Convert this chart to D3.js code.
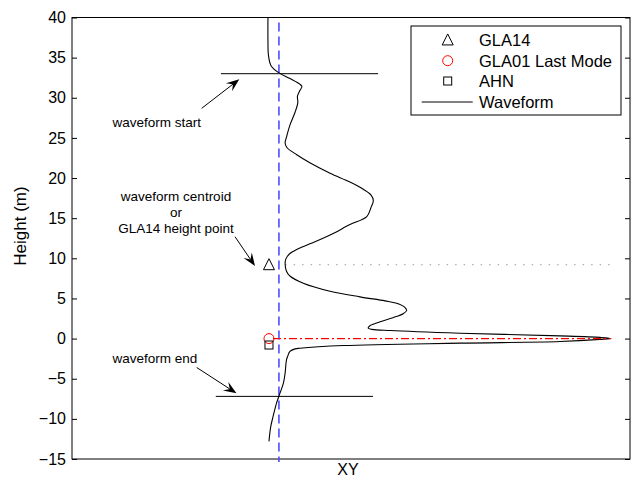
<!DOCTYPE html>
<html>
<head>
<meta charset="utf-8">
<script src="https://cdn.jsdelivr.net/npm/d3@7"></script>
<style>
  html, body { margin: 0; padding: 0; background: #fff; }
  svg { display: block; font-family: "Liberation Sans", Arial, Helvetica, sans-serif; }
</style>
</head>
<body>
<svg id="chart" width="632" height="477"></svg>
<script>
// Waveform profile: height (m) and relative return energy (peak = 100)
const waveHeight = [40.0, 37.2, 35.3, 34.0, 33.1, 32.4, 31.7, 31.4, 30.9, 30.2, 29.4, 28.2, 26.6, 25.1, 24.4, 23.8,
  22.9, 21.9, 20.6, 19.5, 18.6, 17.9, 17.2, 16.3, 15.2, 14.2, 12.9, 11.8, 11.1, 10.6, 9.9, 9.3, 8.4, 7.8,
  6.9, 5.9, 5.2, 4.7, 4.4, 3.9, 3.5, 3.1, 2.6, 2.1, 1.6, 1.3, 1.15, 1.0, 0.67, 0.34, 0.15, 0.02, -0.1,
  -0.37, -0.57, -0.87, -1.2, -1.28, -1.6, -2.15, -2.65, -4.3, -5.55, -6.8, -8.05, -9.7, -11.0, -12.8];
const waveEnergy = [0, 0, 0.15, 0.9, 3.2, 6.4, 9.3, 9.9, 9.3, 8.6, 8.7, 7.9, 6.4, 5.4, 5.0, 5.5,
  8.4, 12.2, 18.1, 23.9, 27.8, 30.0, 30.7, 30.0, 28.8, 23.9, 18.1, 12.2, 8.4, 6.4, 5.2, 5.0, 5.4, 6.4,
  10.3, 18.1, 26.8, 34.1, 37.5, 39.9, 40.4, 39.4, 36.4, 32.7, 29.7, 29.2, 30.3, 35.6, 56.0, 85.1, 96.8, 100, 96.8,
  85.1, 56.0, 22.0, 9.3, 7.9, 6.4, 5.8, 5.4, 5.0, 4.5, 3.5, 2.5, 1.5, 0.8, 0.3];

// Point heights (m) and their horizontal position
const gla14Height = 9.2;
const gla01Height = 0;
const ahnHeight = -0.8;
const markerX = 0.3;

// Reference lines
const centerLineX = 3.2;                      // vertical dashed line
const startHeight = 33.0, startSpan = [-13.7, 32.1];
const endHeight = -7.2, endSpan = [-15.2, 30.6];
const centroidSpan = [5.0, 99.7];
const lastModeSpan = [0.3, 100];

const yTicks = [-15, -10, -5, 0, 5, 10, 15, 20, 25, 30, 35, 40];
const legendLabels = ["GLA14", "GLA01 Last Mode", "AHN", "Waveform"];

const svg = d3.select("#chart");
const plotLeft = 72, plotRight = 630, plotTop = 17.5, plotBottom = 459;

const x = d3.scaleLinear().domain([-57.1, 105.5]).range([plotLeft, plotRight]);
const y = d3.scaleLinear().domain([-15, 40]).range([plotBottom, plotTop]);

const fmt = d => (d < 0 ? "\u2212" + Math.abs(d) : String(d));

// Axes frame
svg.append("rect")
  .attr("x", plotLeft).attr("y", plotTop)
  .attr("width", plotRight - plotLeft).attr("height", plotBottom - plotTop)
  .attr("fill", "none").attr("stroke", "#000").attr("stroke-width", 1);

const gl = svg.append("g").attr("transform", `translate(${plotLeft},0)`)
  .call(d3.axisLeft(y).tickValues(yTicks).tickFormat(fmt).tickSizeInner(-5).tickSizeOuter(0).tickPadding(6));
gl.select(".domain").remove();
gl.selectAll("text").attr("font-size", 16).attr("font-family", "Liberation Sans, Arial, sans-serif").attr("fill", "#000");
gl.selectAll("line").attr("stroke", "#000");

const gr = svg.append("g").attr("transform", `translate(${plotRight},0)`)
  .call(d3.axisRight(y).tickValues(yTicks).tickFormat("").tickSizeInner(-5).tickSizeOuter(0));
gr.select(".domain").remove();
gr.selectAll("line").attr("stroke", "#000");

// Axis titles
svg.append("text")
  .attr("transform", `translate(25.5,226) rotate(-90)`)
  .attr("text-anchor", "middle").attr("font-size", 17).text("Height (m)");
svg.append("text")
  .attr("x", (plotLeft + plotRight) / 2 - 3).attr("y", 474.5)
  .attr("text-anchor", "middle").attr("font-size", 16).text("XY");

// Waveform start / end levels
svg.append("line")
  .attr("x1", x(startSpan[0])).attr("x2", x(startSpan[1]))
  .attr("y1", y(startHeight)).attr("y2", y(startHeight))
  .attr("stroke", "#000").attr("stroke-width", 1);
svg.append("line")
  .attr("x1", x(endSpan[0])).attr("x2", x(endSpan[1]))
  .attr("y1", y(endHeight)).attr("y2", y(endHeight))
  .attr("stroke", "#000").attr("stroke-width", 1);

// Centroid level (dotted)
svg.append("line")
  .attr("x1", x(centroidSpan[0])).attr("x2", x(centroidSpan[1]))
  .attr("y1", y(gla14Height)).attr("y2", y(gla14Height))
  .attr("stroke", "#999").attr("stroke-width", 1).attr("stroke-dasharray", "1.5,7");

// Vertical dashed line
svg.append("line")
  .attr("x1", x(centerLineX)).attr("x2", x(centerLineX))
  .attr("y1", y(40) + 5).attr("y2", y(-15) + 3)
  .attr("stroke", "#4d4dff").attr("stroke-width", 1.6).attr("stroke-dasharray", "9,5");

// Waveform curve
const wave = waveHeight.map((h, i) => ({ h, e: waveEnergy[i] }));
svg.append("path")
  .datum(wave)
  .attr("fill", "none").attr("stroke", "#000").attr("stroke-width", 1.1)
  .attr("d", d3.line().x(d => x(d.e)).y(d => y(d.h)).curve(d3.curveCatmullRom.alpha(0.5)));

// Last mode level (dash-dot)
svg.append("line")
  .attr("x1", x(lastModeSpan[0]) + 4).attr("x2", x(lastModeSpan[1]))
  .attr("y1", y(gla01Height)).attr("y2", y(gla01Height))
  .attr("stroke", "#ff0000").attr("stroke-width", 1.1).attr("stroke-dasharray", "8,3,2,3");

// Markers
const triPath = (cx, cy, s) => `M${cx},${cy - s * 0.55}L${cx + s / 2},${cy + s * 0.45}L${cx - s / 2},${cy + s * 0.45}Z`;
function drawTri(cx, cy) {
  svg.append("path").attr("d", triPath(cx, cy, 11)).attr("fill", "none").attr("stroke", "#000").attr("stroke-width", 1);
}
function drawCircle(cx, cy) {
  svg.append("circle").attr("cx", cx).attr("cy", cy).attr("r", 5)
    .attr("fill", "none").attr("stroke", "#ff0000").attr("stroke-width", 1);
}
function drawSquare(cx, cy) {
  svg.append("rect").attr("x", cx - 4).attr("y", cy - 4).attr("width", 8).attr("height", 8)
    .attr("fill", "none").attr("stroke", "#000").attr("stroke-width", 1);
}
drawTri(x(markerX), y(gla14Height));
drawCircle(x(markerX), y(gla01Height));
drawSquare(x(markerX), y(ahnHeight));

// Annotation arrows
function arrow(x1, y1, x2, y2) {
  const ang = Math.atan2(y2 - y1, x2 - x1);
  const L = 13, W = 5, notch = 8;
  const ux = Math.cos(ang), uy = Math.sin(ang);
  const px = -uy, py = ux;
  const bx = x2 - ux * L, by = y2 - uy * L;
  const nx = x2 - ux * notch, ny = y2 - uy * notch;
  svg.append("line").attr("x1", x1).attr("y1", y1).attr("x2", nx).attr("y2", ny)
    .attr("stroke", "#000").attr("stroke-width", 1);
  svg.append("path")
    .attr("d", `M${x2},${y2}L${bx + px * W},${by + py * W}L${nx},${ny}L${bx - px * W},${by - py * W}Z`)
    .attr("fill", "#000");
}
arrow(201.7, 108.3, 239.3, 79.3);
arrow(235, 236.7, 255, 266);
arrow(196.7, 367.5, 236.5, 393.3);

const ann = svg.append("g").attr("font-size", 13.5).attr("fill", "#000");
ann.append("text").attr("x", 112.5).attr("y", 126.5).text("waveform start");
ann.append("text").attr("x", 176).attr("y", 201).attr("text-anchor", "middle").text("waveform centroid");
ann.append("text").attr("x", 176).attr("y", 217).attr("text-anchor", "middle").text("or");
ann.append("text").attr("x", 176).attr("y", 233).attr("text-anchor", "middle").text("GLA14 height point");
ann.append("text").attr("x", 112.5).attr("y", 363).text("waveform end");

// Legend
const lg = svg.append("g");
lg.append("rect").attr("x", 411).attr("y", 26).attr("width", 210).attr("height", 89)
  .attr("fill", "#fff").attr("stroke", "#000").attr("stroke-width", 1);
const rowY = [40, 60.7, 81, 102];
const mx = 447.7;
lg.append("path").attr("d", triPath(mx, rowY[0], 11)).attr("fill", "none").attr("stroke", "#000");
lg.append("circle").attr("cx", mx).attr("cy", rowY[1]).attr("r", 5).attr("fill", "none").attr("stroke", "#ff0000");
lg.append("rect").attr("x", mx - 4).attr("y", rowY[2] - 4).attr("width", 8).attr("height", 8).attr("fill", "none").attr("stroke", "#000");
lg.append("line").attr("x1", 421.7).attr("x2", 472.7).attr("y1", rowY[3]).attr("y2", rowY[3]).attr("stroke", "#000");
lg.selectAll("text.lab").data(legendLabels).enter().append("text")
  .attr("class", "lab")
  .attr("x", 479).attr("y", (d, i) => rowY[i]).attr("dy", "0.36em")
  .attr("font-size", 16.5).text(d => d);
</script>
</body>
</html>
